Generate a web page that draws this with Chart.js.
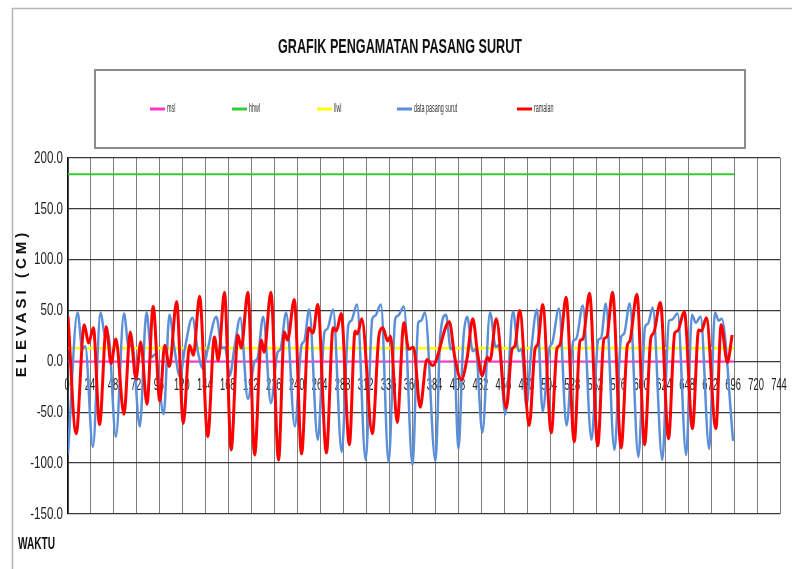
<!DOCTYPE html>
<html>
<head>
<meta charset="utf-8">
<title>Grafik Pengamatan Pasang Surut</title>
<script src="https://cdn.jsdelivr.net/npm/chart.js@4.4.1/dist/chart.umd.min.js"></script>
<style>
  html, body { margin: 0; padding: 0; background: #fff; }
  #wrap { width: 792px; height: 569px; position: relative; }
</style>
</head>
<body>
<div id="wrap"><canvas id="tide"></canvas></div>
<script>
const obsHours = [
  0, 10, 15, 18,
  26, 34, 39, 42,
  50, 58.5, 63.5, 67,
  75, 82, 87.5, 91,
  100, 106, 111,
  117, 122, 130, 136,
  141, 146, 155, 161, 164,
  169, 174, 180,
  188, 195, 198, 204,
  212, 219, 222, 228,
  237, 244, 247, 252,
  261, 268, 271, 277,
  286, 293, 296, 302,
  311, 318, 321, 327,
  335, 342, 345, 351,
  360, 366, 369, 373,
  384, 389, 395, 400, 403,
  408, 413, 417, 423, 426,
  433, 441, 447, 450,
  457, 465, 471, 474,
  479, 484, 490,
  496, 503, 506, 513,
  521, 528, 531, 538,
  547, 554, 557, 562,
  571, 578, 581, 587,
  596, 603, 606, 611,
  621, 628, 631, 637,
  646, 652, 656, 661,
  670, 676, 680, 683,
  695
];
const obsValues = [
  -91, 48, 12, 15,
  -84, 48, 24, 27,
  -74, 47, 14, 17,
  -64, 48, 4, 7,
  -52, 46, 14,
  -15, 12, 43, 8,
  -7, 12, 44, 13, 14,
  -14, 14, 43,
  -37, 0, 3, 44,
  -41, 9, 12, 48,
  -64, 16, 20, 51,
  -77, 29, 32, 51,
  -89, 36, 40, 56,
  -97, 42, 45, 56,
  -99, 42, 45, 54,
  -102, 38, 40, 48,
  -98, 25, 46, 12, 14,
  -86, 20, 44, 10, 12,
  -70, 48, 14, 16,
  -52, 49, 10, 12,
  -44, 10, 51,
  -49, 13, 18, 52,
  -63, 20, 22, 55,
  -77, 21, 23, 57,
  -87, 24, 27, 57,
  -94, 34, 37, 53,
  -97, 40, 41, 47,
  -92, 46, 38, 44,
  -86, 48, 40, 42,
  -78
];

// prediction (ramalan)
const predHours = [
  0, 8.5, 17, 21.5, 26.5,
  33, 40, 45, 50,
  58.5, 65, 71, 76,
  82.5, 89,
  96, 101, 106, 113.5,
  120.5, 127, 131, 137.5,
  146, 153, 157, 163.5,
  170.5, 177.5, 181, 188,
  195, 202, 205, 212,
  220, 226, 229.5, 236.5,
  244, 251.5, 256, 261,
  270, 277, 280.5, 285.5,
  294, 300, 302.5, 307,
  318, 325, 329, 334, 337,
  344, 351, 356, 361,
  368, 375, 381, 398.5,
  404, 411, 417, 423,
  428, 433, 438, 441, 447.5,
  458, 464, 467, 472,
  482, 488, 491, 496,
  505, 511, 514, 520.5,
  529, 535, 538, 545,
  553.5, 560, 563, 569,
  578, 584.5, 587, 594.5,
  602.5, 609, 612, 619,
  627.5, 634, 637, 644,
  652.5, 659, 662, 667,
  677, 682.5, 689, 694
];
const predValues = [
  44, -71, 36, 18, 33,
  -62, 34, -2, 22,
  -52, 29, -17, 19,
  -42, 54,
  -39, 16, -5, 59,
  -61, 16, 6, 64,
  -74, 24, 1, 68,
  -87, 26, 13, 68,
  -92, 21, 9, 68,
  -97, 29, 21, 61,
  -91, 33, 28, 56,
  -90, 33, 30, 47,
  -82, 30, 27, 42,
  -71, 26, 33, 20, 25,
  -60, 38, 12, 14,
  -45, 2, -4, 39,
  5, -18, 3, 42,
  8, -14, 4, 1, 42,
  -46, 12, 15, 50,
  -63, 12, 17, 56,
  -70, 13, 16, 63,
  -79, 20, 22, 67,
  -83, 22, 24, 68,
  -85, 16, 20, 66,
  -82, 23, 28, 58,
  -76, 28, 30, 49,
  -66, 31, 30, 43,
  -66, 36, -1, 26
];

// reference levels (cm) and the hours they run over
const mslLevel = 0;
const hhwlLevel = 184;
const llwlLevel = 13;
const levelSpan = [0, 696];

const xTicks = [0, 24, 48, 72, 96, 120, 144, 168, 192, 216, 240, 264, 288, 312, 336, 360,
  384, 408, 432, 456, 480, 504, 528, 552, 576, 600, 624, 648, 672, 696, 720, 744];
const yTicks = [-150, -100, -50, 0, 50, 100, 150, 200];

const chartTitle = 'GRAFIK PENGAMATAN PASANG SURUT';
const yTitle = 'ELEVASI (CM)';
const xTitle = 'WAKTU';

const toPoints = (xs, ys) => xs.map((x, i) => ({ x: x, y: ys[i] }));
const levelLine = (lv) => levelSpan.map((x) => ({ x: x, y: lv }));

// draw text squeezed horizontally like the scanned chart
function squeeze(ctx, text, x, y, font, sx, align, color) {
  ctx.save();
  ctx.font = font;
  ctx.fillStyle = color;
  ctx.textAlign = align;
  ctx.textBaseline = 'middle';
  ctx.translate(x, y);
  ctx.scale(sx, 1);
  ctx.fillText(text, 0, 0);
  ctx.restore();
}
function fitWidth(ctx, text, font, w) {
  ctx.save();
  ctx.font = font;
  const m = ctx.measureText(text).width;
  ctx.restore();
  return Math.min(1, w / m);
}

const legendPos = [150, 232, 317, 397, 517];

const decor = {
  id: 'decor',
  beforeDraw(chart) {
    const ctx = chart.ctx;
    ctx.save();
    ctx.fillStyle = '#fff';
    ctx.fillRect(0, 0, chart.width, chart.height);
    // outer frame
    ctx.strokeStyle = '#b5b5b5';
    ctx.lineWidth = 1.5;
    ctx.strokeRect(12.5, 8.5, 800, 600);
    // legend box
    ctx.strokeStyle = '#8c8c8c';
    ctx.lineWidth = 2;
    ctx.strokeRect(95, 70, 650, 78);
    ctx.restore();

    const tf = 'bold 20px "Liberation Sans", Arial, sans-serif';
    squeeze(ctx, chartTitle, 400, 47, tf, fitWidth(ctx, chartTitle, tf, 244), 'center', '#111');

    // legend entries
    chart.data.datasets.forEach((ds, i) => {
      const x0 = legendPos[i];
      ctx.save();
      ctx.strokeStyle = ds.borderColor;
      ctx.lineWidth = 3;
      ctx.beginPath();
      ctx.moveTo(x0, 109);
      ctx.lineTo(x0 + 15, 109);
      ctx.stroke();
      ctx.restore();
      squeeze(ctx, ds.label, x0 + 17, 109, '12px "Liberation Sans", Arial, sans-serif', 0.45, 'left', '#333');
    });
  },
  beforeDatasetsDraw(chart) {
    const ctx = chart.ctx;
    const xs = chart.scales.x, ys = chart.scales.y;
    const zero = ys.getPixelForValue(0);
    xTicks.forEach((v) => {
      squeeze(ctx, String(v), xs.getPixelForValue(v) - 1, zero + 24,
        '17px "Liberation Sans", Arial, sans-serif', 0.55, 'center', '#222');
    });
    yTicks.forEach((v) => {
      squeeze(ctx, v.toFixed(1), 63, ys.getPixelForValue(v),
        '17px "Liberation Sans", Arial, sans-serif', 0.68, 'right', '#222');
    });
  },
  afterDraw(chart) {
    const ctx = chart.ctx;
    // y axis title, rotated and spaced out
    ctx.save();
    ctx.translate(22, 305);
    ctx.rotate(-Math.PI / 2);
    ctx.font = 'bold 15px "Liberation Sans", Arial, sans-serif';
    ctx.fillStyle = '#111';
    ctx.textAlign = 'center';
    ctx.textBaseline = 'middle';
    if ('letterSpacing' in ctx) ctx.letterSpacing = '4px';
    ctx.fillText(yTitle, 2, 0);
    ctx.restore();

    const wf = 'bold 16px "Liberation Sans", Arial, sans-serif';
    squeeze(ctx, xTitle, 18, 545, wf, fitWidth(ctx, xTitle, wf, 37), 'left', '#111');
  }
};

const ctx = document.getElementById('tide').getContext('2d');

const tideChart = new Chart(ctx, {
  type: 'line',
  data: {
    datasets: [
      {
        label: 'msl',
        data: levelLine(mslLevel),
        borderColor: '#ff33cc',
        borderWidth: 2,
        order: 5,
      },
      {
        label: 'hhwl',
        data: levelLine(hhwlLevel),
        borderColor: '#33cc33',
        borderWidth: 2,
        order: 4,
      },
      {
        label: 'llwl',
        data: levelLine(llwlLevel),
        borderColor: '#ffff00',
        borderWidth: 2.5,
        order: 3,
      },
      {
        label: 'data pasang surut',
        data: toPoints(obsHours, obsValues),
        borderColor: '#5b8fd9',
        borderWidth: 2.5,
        cubicInterpolationMode: 'monotone',
        order: 2,
      },
      {
        label: 'ramalan',
        data: toPoints(predHours, predValues),
        borderColor: '#ff0000',
        borderWidth: 3,
        cubicInterpolationMode: 'monotone',
        order: 1,
      },
    ],
  },
  options: {
    responsive: true,
    maintainAspectRatio: false,
    animation: false,
    devicePixelRatio: 1,
    elements: {
      point: { radius: 0, hoverRadius: 0 },
    },
    layout: {
      padding: { left: 68, top: 158, right: 12, bottom: 55 },
    },
    plugins: {
      legend: { display: false },
      title: { display: false },
      tooltip: { enabled: false },
    },
    scales: {
      x: {
        type: 'linear',
        min: 0,
        max: 744,
        afterBuildTicks: (scale) => { scale.ticks = xTicks.map((v) => ({ value: v })); },
        afterFit: (scale) => { scale.height = 0; },
        ticks: { display: false },
        grid: { color: '#7d7d7d', lineWidth: 1, drawTicks: false },
        border: { display: false },
      },
      y: {
        min: -150,
        max: 200,
        afterBuildTicks: (scale) => { scale.ticks = yTicks.map((v) => ({ value: v })); },
        afterFit: (scale) => { scale.width = 0; },
        ticks: { display: false },
        grid: { color: '#3a3a3a', lineWidth: 1.3, drawTicks: false },
        border: { display: true, color: '#111', width: 1.5 },
      },
    },
  },
  plugins: [decor],
});
</script>
</body>
</html>
